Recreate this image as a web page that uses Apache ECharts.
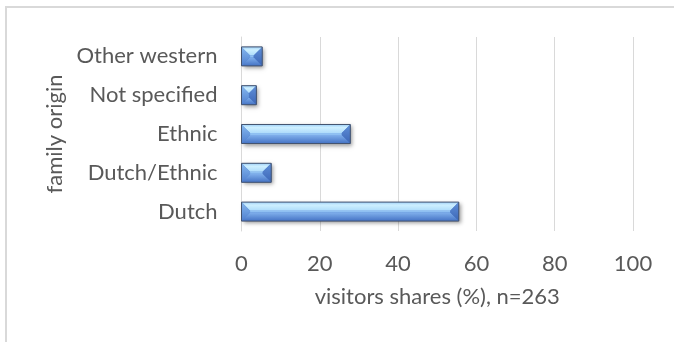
<!DOCTYPE html>
<html>
<head>
<meta charset="utf-8">
<script src="https://cdn.jsdelivr.net/npm/echarts@6/dist/echarts.min.js"></script>
<style>
  html, body { margin: 0; padding: 0; background: #ffffff; }
  #chart { width: 674px; height: 342px; }
</style>
</head>
<body>
<div id="chart"></div>
<script>
// Family origin of visitors (n = 263), bottom-to-top order
const categories = ['Dutch', 'Dutch/Ethnic', 'Ethnic', 'Not specified', 'Other western'];
const shares = [55.5, 7.6, 27.8, 3.8, 5.3];
const xTicks = [0, 20, 40, 60, 80, 100];

const textColor = '#595959';
const fontFamily = 'Lato, "Open Sans", sans-serif';
const LG = echarts.graphic.LinearGradient;

// Bevelled horizontal bar: light top face, darker bottom face, angled ends
function renderBevelBar(params, api) {
  const value = api.value(0);
  const cat = api.value(1);
  const start = api.coord([0, cat]);
  const end = api.coord([value, cat]);
  const band = api.size([0, 1])[1];
  const h = band * 0.49;
  const x0 = start[0], x1 = end[0];
  const y0 = start[1] - h / 2, y1 = start[1] + h / 2;
  const w = x1 - x0;
  const b = Math.min(h * 0.45, w / 2);
  const ym = (y0 + y1) / 2;

  return {
    type: 'group',
    children: [
      {
        type: 'rect',
        shape: { x: x0, y: y0, width: w, height: h },
        style: {
          fill: '#4f7fcf',
          shadowColor: 'rgba(0,0,0,0.4)',
          shadowBlur: 4,
          shadowOffsetX: 2,
          shadowOffsetY: 2
        }
      },
      {
        type: 'polygon',
        shape: { points: [[x0, y0], [x1, y0], [x1 - b, y0 + b], [x0 + b, y0 + b]] },
        style: {
          fill: new LG(0, 0, 0, 1, [
            { offset: 0, color: '#9fd0f7' },
            { offset: 0.35, color: '#cdefff' },
            { offset: 1, color: '#aedcfb' }
          ])
        }
      },
      {
        type: 'rect',
        shape: { x: x0 + b, y: y0 + b, width: Math.max(w - 2 * b, 0), height: Math.max(h - 2 * b, 0) },
        style: { fill: '#8fc0f2' }
      },
      {
        type: 'polygon',
        shape: { points: [[x0, y1], [x1, y1], [x1 - b, y1 - b], [x0 + b, y1 - b]] },
        style: {
          fill: new LG(0, 0, 0, 1, [
            { offset: 0, color: '#80b0ec' },
            { offset: 1, color: '#4472c4' }
          ])
        }
      },
      {
        type: 'polygon',
        shape: { points: [[x0, y0], [x0 + b, y0 + b], [x0 + b, y1 - b], [x0, y1]] },
        style: {
          fill: new LG(0, 0, 0, 1, [
            { offset: 0, color: '#86b8ee' },
            { offset: 1, color: '#4f7fcf' }
          ])
        }
      },
      {
        type: 'polygon',
        shape: { points: [[x1, y0], [x1 - b, y0 + b], [x1 - b, y1 - b], [x1, y1]] },
        style: {
          fill: new LG(0, 0, 0, 1, [
            { offset: 0, color: '#5f8fd8' },
            { offset: 1, color: '#3c66b6' }
          ])
        }
      },
      {
        type: 'rect',
        shape: { x: x0, y: y0, width: w, height: h },
        style: { fill: 'none', stroke: '#43536f', lineWidth: 1 }
      }
    ]
  };
}

const chart = echarts.init(document.getElementById('chart'), null, { renderer: 'canvas' });

chart.setOption({
  animation: false,
  backgroundColor: '#ffffff',
  graphic: [{
    type: 'rect',
    shape: { x: 6, y: 7, width: 720, height: 400 },
    style: { fill: 'none', stroke: '#d9d9d9', lineWidth: 2 },
    silent: true
  }],
  grid: { left: 241.5, right: 41, top: 37, bottom: 111, containLabel: false },
  xAxis: {
    type: 'value',
    min: xTicks[0],
    max: xTicks[xTicks.length - 1],
    interval: xTicks[1] - xTicks[0],
    name: 'visitors shares (%), n=263',
    nameLocation: 'middle',
    nameGap: 55,
    nameTextStyle: { color: textColor, fontFamily: fontFamily, fontSize: 22 },
    axisLine: { show: false },
    axisTick: { show: false },
    axisLabel: { color: textColor, fontFamily: fontFamily, fontSize: 22, margin: 22 },
    splitLine: { show: true, lineStyle: { color: '#d9d9d9', width: 1 } }
  },
  yAxis: {
    type: 'category',
    data: categories,
    name: 'family origin',
    nameLocation: 'middle',
    nameGap: 173,
    nameRotate: 90,
    nameTextStyle: { color: textColor, fontFamily: fontFamily, fontSize: 22 },
    axisLine: { show: true, lineStyle: { color: '#d9d9d9', width: 1 } },
    axisTick: { show: false },
    axisLabel: { color: textColor, fontFamily: fontFamily, fontSize: 22, margin: 24 },
    splitLine: { show: false }
  },
  series: [{
    type: 'custom',
    renderItem: renderBevelBar,
    encode: { x: 0, y: 1 },
    data: shares.map(function (v, i) { return [v, i]; })
  }]
});
</script>
</body>
</html>
